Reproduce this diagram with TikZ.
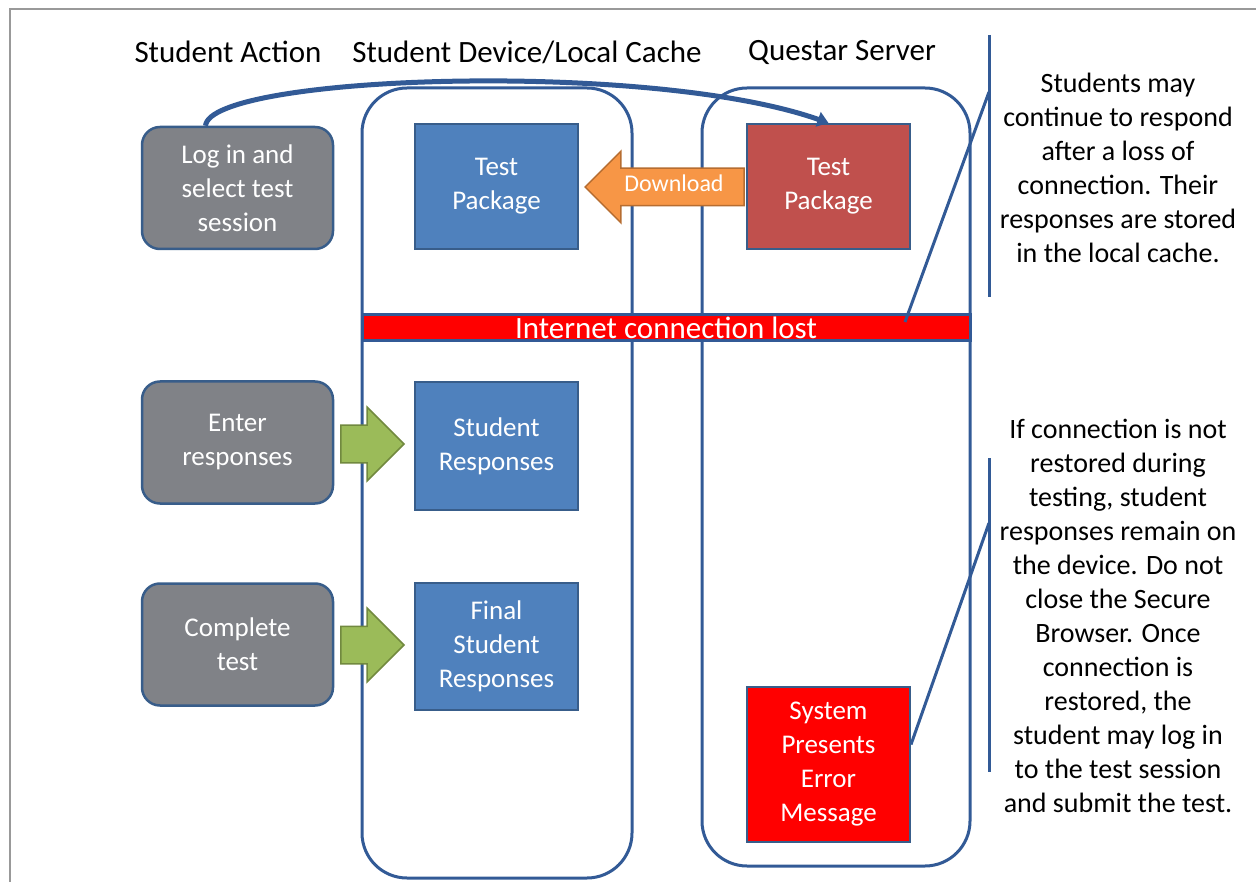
\documentclass[tikz,border=0pt]{standalone}
\usepackage{fontspec}
\setmainfont{Carlito}
\usepackage{tikz}
\usetikzlibrary{shapes.arrows,arrows.meta}

\definecolor{lanecol}{RGB}{50,90,150}
\definecolor{boxfill}{RGB}{79,129,189}
\definecolor{boxline}{RGB}{56,93,138}
\definecolor{greyfill}{RGB}{128,130,135}
\definecolor{srvfill}{RGB}{192,80,77}
\definecolor{orangefill}{RGB}{247,150,70}
\definecolor{orangeline}{RGB}{182,109,49}
\definecolor{greenfill}{RGB}{155,187,89}
\definecolor{greenline}{RGB}{113,137,63}

\tikzset{
  lane/.style={draw=lanecol,line width=3pt,rounded corners=45pt},
  actbox/.style={draw=boxline,line width=2.5pt,fill=greyfill,rounded corners=18pt,
    minimum width=191pt,minimum height=122pt,text=white,align=center},
  cachebox/.style={draw=boxline,line width=2pt,fill=boxfill,
    minimum width=163pt,text=white,align=center},
  greenarrow/.style={single arrow,draw=greenline,line width=1.5pt,fill=greenfill,
    minimum height=63pt,inner xsep=0pt,inner ysep=18pt,text width=0pt,anchor=tip,
    single arrow head extend=18pt,single arrow head indent=0pt},
  note/.style={align=center,text=black,font=\fontsize{28}{34}\selectfont},
  noteline/.style={draw=lanecol,line width=3pt}
}

\begin{document}
\begin{tikzpicture}[x=1pt,y=-1pt,font=\fontsize{27}{34}\selectfont]
\useasboundingbox (0,0) rectangle (1256,882);
%frame
\draw[gray!80,line width=1.5pt] (10,882) -- (10,9) -- (1256,9);

%column heads
\node[font=\fontsize{31}{34}\selectfont] (headact) at (228,52) {Student Action};
\node[font=\fontsize{31}{34}\selectfont] (headdev) at (527,52) {Student Device/Local Cache};
\node[font=\fontsize{31}{34}\selectfont] (headsrv) at (842,52) {Questar Server};

%lanes
\draw[lane] (362,88) rectangle (632,878);
\draw[lane] (702,88) rectangle (970,866);

%student actions
\node[actbox] (login) at (237.5,188) {Log in and\\select test\\session};
\node[actbox] (enter) at (237.5,442.5) {Enter\\responses};
\node[actbox] (complete) at (237.5,644.5) {Complete\\test};

%local cache
\node[cachebox,minimum height=125pt] (devpkg) at (496.5,186.5) {Test\\Package};
\node[cachebox,minimum height=128pt] (resp) at (496.5,446) {Student\\Responses};
\node[cachebox,minimum height=127pt] (finalresp) at (496.5,646.5) {Final\\Student\\Responses};

%server
\node[cachebox,fill=srvfill,minimum height=125pt] (srvpkg) at (828.5,186.5) {Test\\Package};
\node[cachebox,fill=red,minimum height=155pt] (errmsg) at (828.5,764.5) {System\\Presents\\Error\\Message};

%download arrow
\node[single arrow,shape border rotate=180,anchor=tip,draw=orangeline,line width=1.5pt,fill=orangefill,
  minimum height=159pt,single arrow head extend=17pt,single arrow head indent=0pt,
  text height=14pt,text depth=4pt,inner ysep=9pt,inner xsep=2pt,text=white,
  font=\fontsize{24}{26}\selectfont] (download) at (584,187) {Download};

%connection lost
\node[draw=lanecol,line width=3pt,fill=red,minimum width=608pt,minimum height=26pt,
  inner sep=0pt,text=white,font=\fontsize{31}{32}\selectfont] (lost) at (666,328) {Internet connection lost};

%green arrows
\node[greenarrow] (toresp) at (405,444) {};
\node[greenarrow] (tofinal) at (405,645) {};

%login to server
\draw[lanecol,line width=5pt,-{Triangle[width=15pt,length=11pt]}]
  ([xshift=-32pt]login.north) .. controls (210,75) and (650,60) .. (srvpkg.north);

%notes
\coordinate (lostpt) at (905,322);
\coordinate (bartop) at (989,35);
\coordinate (barbot) at (989,297);
\coordinate (barpt) at (989,92);
\draw[noteline] (bartop) -- (barbot);
\draw[noteline] (barpt) -- (lostpt);
\node[note] (note1) at (1118,168) {Students may\\continue to respond\\after a loss of\\connection. Their\\responses are stored\\in the local cache.};

\coordinate (bartwotop) at (989,458);
\coordinate (bartwobot) at (989,772);
\coordinate (bartwopt) at (989,523);
\draw[noteline] (bartwotop) -- (bartwobot);
\draw[noteline] (bartwopt) -- ([yshift=20pt]errmsg.east);
\node[note] (note2) at (1118,616) {If connection is not\\restored during\\testing, student\\responses remain on\\the device. Do not\\close the Secure\\Browser. Once\\connection is\\restored, the\\student may log in\\to the test session\\and submit the test.};
\end{tikzpicture}
\end{document}
